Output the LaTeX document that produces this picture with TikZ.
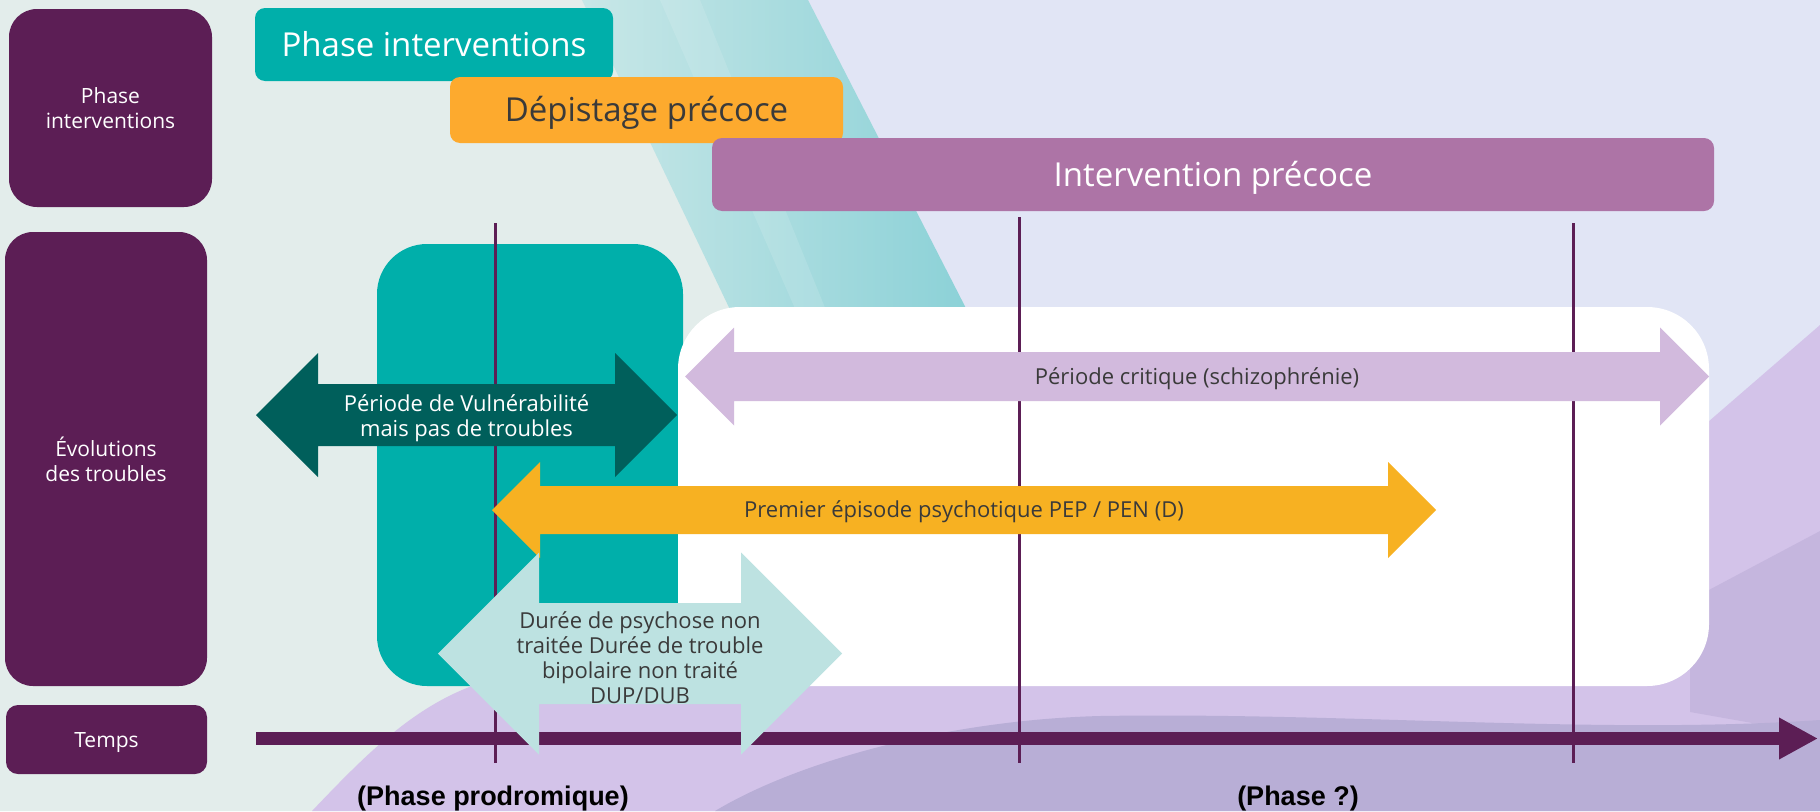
\documentclass[tikz,border=0pt]{standalone}
\usepackage{fontspec}
\setmainfont{Open Sans}
\newfontfamily\headbold{Liberation Sans}
\usetikzlibrary{arrows.meta}

\definecolor{bgleft}{HTML}{E3EDEB}
\definecolor{bgright}{HTML}{E1E5F5}
\definecolor{plum}{HTML}{5C1E55}
\definecolor{tealmain}{HTML}{00AFAA}
\definecolor{orangebar}{HTML}{FDAA2E}
\definecolor{mauve}{HTML}{AD74A6}
\definecolor{tealdark}{HTML}{005F5B}
\definecolor{lilac}{HTML}{D2BADD}
\definecolor{orangearrow}{HTML}{F7B122}
\definecolor{tealpale}{HTML}{BDE2E1}
\definecolor{inkgray}{HTML}{3A3A3A}
\definecolor{brushA}{HTML}{C8E7E7}
\definecolor{brushB}{HTML}{8BD1D7}
\definecolor{sweepA}{HTML}{D3C3E9}
\definecolor{sweepB}{HTML}{B8AED6}
\definecolor{sweepC}{HTML}{C3B4DD}

\tikzset{
  sidebox/.style={fill=plum, rounded corners=28pt, text=white,
    font=\fontsize{21}{25}\selectfont, align=center, inner sep=0pt},
  phasebar/.style={rounded corners=10pt, inner sep=0pt,
    font=\fontsize{33}{38}\selectfont, text height=23.8pt, text depth=0pt},
  arrowlabel/.style={font=\fontsize{22}{25}\selectfont, align=center, inner sep=0pt},
  oneline/.style={text height=15.8pt, text depth=0pt},
  tick/.style={draw=plum, line width=3pt},
  phaselabel/.style={font=\headbold\bfseries\fontsize{27}{30}\selectfont,
    text=black, inner sep=0pt, anchor=base},
}

% double-headed block arrow: colour, left tip x, right tip x, centre y, half shaft
\newcommand\twinarrow[5]{%
  \fill[#1] (#2,#4) -- ({#2+2*#5},{#4-2*#5}) -- ({#2+2*#5},{#4-#5})
    -- ({#3-2*#5},{#4-#5}) -- ({#3-2*#5},{#4-2*#5}) -- (#3,#4)
    -- ({#3-2*#5},{#4+2*#5}) -- ({#3-2*#5},{#4+#5})
    -- ({#2+2*#5},{#4+#5}) -- ({#2+2*#5},{#4+2*#5}) -- cycle;}

\begin{document}
\begin{tikzpicture}[x=1pt, y=-1pt]
\useasboundingbox (0,0) rectangle (1820,811);

% backdrop
\fill[bgright] (0,0) rectangle (1820,811);
\fill[bgleft] (0,0) -- (600,0) -- (800,400) -- (800,811) -- (0,811) -- cycle;
\shade[left color=brushA, right color=brushB]
  (582,0) -- (808,0) -- (972,320) -- (735,320) -- cycle;
\fill[white, opacity=0.12] (660,0) -- (700,0) -- (830,320) -- (800,320) -- cycle;
\fill[sweepA] (312,811) .. controls (370,750) and (420,700) .. (490,680)
  -- (1708,422) -- (1820,325) -- (1820,811) -- cycle;
\fill[sweepC, opacity=0.85] (1690,600) -- (1820,531) -- (1820,735) -- (1690,712) -- cycle;
\fill[sweepB] (715,811) .. controls (800,760) and (950,720) .. (1100,716)
  .. controls (1350,712) and (1600,735) .. (1820,720) -- (1820,811) -- cycle;

% row headings
\node[sidebox, minimum width=203pt, minimum height=198pt] (rowphase) at (110.5,108) {Phase\\interventions};
\node[sidebox, minimum width=202pt, minimum height=454pt] (rowevol) at (106,459) {Évolutions\\des troubles};
\node[sidebox, rounded corners=12pt, text height=15.1pt, text depth=0pt, minimum width=201pt, minimum height=69pt] (rowtime) at (106.5,739.5) {Temps};

% intervention phases
\node[phasebar, fill=tealmain, text=white, minimum width=358pt, minimum height=73pt] (barphase) at (434,44.5) {Phase interventions};
\node[phasebar, fill=orangebar, text=inkgray, minimum width=393pt, minimum height=66pt] (barscreen) at (646.5,110) {Dépistage précoce};
\node[phasebar, fill=mauve, text=white, minimum width=1002pt, minimum height=73pt] (barearly) at (1213,174.5) {Intervention précoce};

% zones
\fill[tealmain, rounded corners=50pt] (377,244) rectangle (683,686);
\fill[white, rounded corners=62pt] (678,307) rectangle (1709,686);

% time markers
\coordinate (m1top) at (495,223);  \coordinate (m1bot) at (495,763);
\coordinate (m2top) at (1019,217); \coordinate (m2bot) at (1019,763);
\coordinate (m3top) at (1573,223); \coordinate (m3bot) at (1573,763);
\draw[tick] (m1top) -- (m1bot);
\draw[tick] (m2top) -- (m2bot);
\draw[tick] (m3top) -- (m3bot);

% time axis
\coordinate (axstart) at (256,738.5);
\coordinate (axend) at (1818,738.5);
\draw[plum, line width=13pt, -{Triangle[length=39pt,width=39pt]}] (axstart) -- (axend);

% periods
\twinarrow{tealdark}{256}{677}{415}{31}
\twinarrow{lilac}{685}{1709}{376.5}{24.5}
\twinarrow{orangearrow}{492}{1436}{510}{24}
\twinarrow{tealpale}{438}{842}{653.5}{50.5}

\node[arrowlabel, text=white] (vulnlabel) at (466.5,418.5) {Période de Vulnérabilité\\mais pas de troubles};
\node[arrowlabel, oneline, text=inkgray] (critlabel) at (1197,376.5) {Période critique (schizophrénie)};
\node[arrowlabel, oneline, text=inkgray] (peplabel) at (964,510) {Premier épisode psychotique PEP / PEN (D)};
\node[arrowlabel, text=inkgray] (duplabel) at (640,658) {Durée de psychose non\\traitée Durée de trouble\\bipolaire non traité\\DUP/DUB};

% phase names under the axis
\node[phaselabel] (prodrome) at (493,805) {(Phase prodromique)};
\node[phaselabel] (unknown) at (1298,805) {(Phase ?)};
\end{tikzpicture}
\end{document}
